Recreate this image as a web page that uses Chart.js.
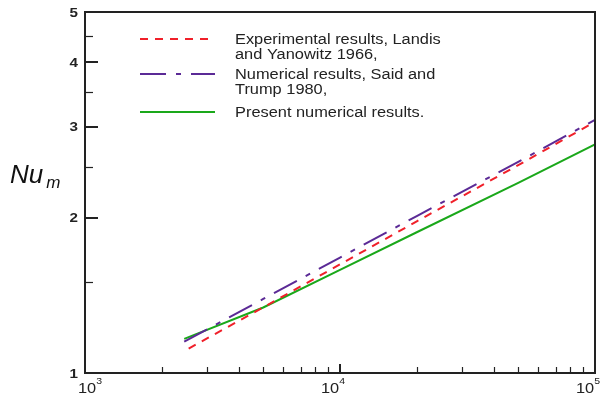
<!DOCTYPE html>
<html>
<head>
<meta charset="utf-8">
<script src="https://cdn.jsdelivr.net/npm/chart.js@4"></script>
<style>
  html, body { margin: 0; padding: 0; background: #fff; }
  canvas { display: block; }
</style>
</head>
<body>
<canvas id="c" width="603" height="397"></canvas>
<script>
// Mean Nusselt number against Rayleigh number (log-log)
const raLandis  = [2550, 5000, 10000, 20000, 50000, 100000];
const nuLandis  = [1.115, 1.340, 1.623, 1.966, 2.526, 3.064];
const raSaid    = [2450, 5000, 10000, 20000, 50000, 100000];
const nuSaid    = [1.150, 1.391, 1.673, 2.013, 2.564, 3.090];
const raPresent = [2450, 5000, 10000, 20000, 50000, 100000];
const nuPresent = [1.164, 1.339, 1.584, 1.873, 2.334, 2.770];

const seriesLabels = [
  ['Experimental results, Landis', 'and Yanowitz 1966,'],
  ['Numerical results, Said and', 'Trump 1980,'],
  ['Present numerical results.']
];

const yMajorTicks = [1, 2, 3, 4, 5];
const yMinorTicks = [1.5, 2.5, 3.5, 4.5];
const xMajorTicks = [1000, 10000, 100000];
const xTickExponents = ['3', '4', '5'];
const xMinorTicks = [2000, 3000, 4000, 5000, 6000, 7000, 8000, 9000,
                     20000, 30000, 40000, 50000, 60000, 70000, 80000, 90000];
const yAxisTitle = ['Nu', 'm'];

const FONT = "'Liberation Sans', Arial, sans-serif";
const INK = '#222';
const STRETCH = 1.17;   // text is set slightly wide

const toPoints = (xs, ys) => xs.map((x, i) => ({ x: x, y: ys[i] }));

function wideText(ctx, text, x, y, align) {
  ctx.save();
  ctx.translate(x, y);
  ctx.scale(STRETCH, 1);
  ctx.textAlign = align || 'left';
  ctx.fillText(text, 0, 0);
  ctx.restore();
}

// Inward tick marks, frame, tick labels, axis title and legend
const decorations = {
  id: 'decorations',
  afterDatasetsDraw(chart) {
    const { ctx, chartArea: a, scales } = chart;
    const xs = scales.x, ys = scales.y;
    ctx.save();
    ctx.strokeStyle = INK;
    ctx.lineCap = 'butt';

    // y ticks
    yMajorTicks.forEach(v => {
      const y = Math.round(ys.getPixelForValue(v));
      ctx.lineWidth = 2;
      ctx.beginPath(); ctx.moveTo(a.left, y); ctx.lineTo(a.left + 13, y); ctx.stroke();
    });
    yMinorTicks.forEach(v => {
      const y = Math.round(ys.getPixelForValue(v)) + 0.5;
      ctx.lineWidth = 1.2;
      ctx.beginPath(); ctx.moveTo(a.left, y); ctx.lineTo(a.left + 8, y); ctx.stroke();
    });
    // x ticks
    xMajorTicks.forEach(v => {
      const x = Math.round(xs.getPixelForValue(v));
      ctx.lineWidth = 2;
      ctx.beginPath(); ctx.moveTo(x, a.bottom); ctx.lineTo(x, a.bottom - 9); ctx.stroke();
    });
    xMinorTicks.forEach(v => {
      const x = Math.round(xs.getPixelForValue(v)) + 0.5;
      ctx.lineWidth = 1.2;
      ctx.beginPath(); ctx.moveTo(x, a.bottom); ctx.lineTo(x, a.bottom - 6); ctx.stroke();
    });

    // frame
    ctx.lineWidth = 2;
    ctx.strokeRect(a.left, a.top, a.right - a.left, a.bottom - a.top);

    ctx.fillStyle = INK;

    // y tick labels
    ctx.font = 'bold 13px ' + FONT;
    ctx.textBaseline = 'middle';
    yMajorTicks.forEach(v => {
      const y = ys.getPixelForValue(v);
      wideText(ctx, String(v), 78, y + 1, 'right');
    });

    // x tick labels: 10 with superscript exponent
    ctx.textBaseline = 'alphabetic';
    xMajorTicks.forEach((v, i) => {
      const x = xs.getPixelForValue(v);
      ctx.font = '14px ' + FONT;
      const wBase = ctx.measureText('10').width * STRETCH;
      ctx.font = '9px ' + FONT;
      const wExp = ctx.measureText(xTickExponents[i]).width * STRETCH;
      let left = x + 5 - (wBase + wExp);
      if (left < 78) left = 78;
      ctx.font = '14px ' + FONT;
      wideText(ctx, '10', left, 393);
      ctx.font = '9px ' + FONT;
      wideText(ctx, xTickExponents[i], left + wBase, 384);
    });

    // y axis title Nu with subscript m
    ctx.fillStyle = '#111';
    ctx.font = 'italic 26px ' + FONT;
    ctx.fillText(yAxisTitle[0], 10, 183);
    const wNu = ctx.measureText(yAxisTitle[0]).width;
    ctx.font = 'italic 17px ' + FONT;
    ctx.fillText(yAxisTitle[1], 10 + wNu + 3, 188);

    // legend
    const rows = [40, 75, 113];
    chart.data.datasets.forEach((ds, i) => {
      const y = rows[i];
      ctx.strokeStyle = ds.borderColor;
      ctx.lineWidth = 2;
      ctx.setLineDash(ds.borderDash || []);
      ctx.beginPath(); ctx.moveTo(140, y - 1); ctx.lineTo(215, y - 1); ctx.stroke();
      ctx.setLineDash([]);
      ctx.fillStyle = INK;
      ctx.font = '14px ' + FONT;
      ctx.textBaseline = 'middle';
      seriesLabels[i].forEach((t, k) => wideText(ctx, t, 235, y + k * 15));
    });
    ctx.restore();
  }
};

new Chart(document.getElementById('c'), {
  type: 'line',
  data: {
    datasets: [
      {
        label: seriesLabels[0].join(' '),
        data: toPoints(raLandis, nuLandis),
        borderColor: '#f0202a',
        borderWidth: 2,
        borderDash: [8, 7],
        pointRadius: 0,
        tension: 0
      },
      {
        label: seriesLabels[1].join(' '),
        data: toPoints(raSaid, nuSaid),
        borderColor: '#5b2a96',
        borderWidth: 2,
        borderDash: [26, 10, 5, 10],
        pointRadius: 0,
        tension: 0
      },
      {
        label: seriesLabels[2].join(' '),
        data: toPoints(raPresent, nuPresent),
        borderColor: '#1aa81a',
        borderWidth: 2,
        pointRadius: 0,
        tension: 0
      }
    ]
  },
  options: {
    responsive: false,
    devicePixelRatio: 1,
    animation: false,
    layout: { padding: { top: 12, right: 8, left: 0, bottom: 0 } },
    plugins: { legend: { display: false }, tooltip: { enabled: false } },
    scales: {
      x: {
        type: 'logarithmic',
        min: 1000,
        max: 100000,
        grid: { display: false },
        border: { display: false },
        ticks: { display: false },
        afterFit(scale) { scale.height = 24; }
      },
      y: {
        type: 'logarithmic',
        min: 1,
        max: 5,
        grid: { display: false, drawTicks: false },
        border: { display: false },
        afterBuildTicks(scale) { scale.ticks = yMajorTicks.map(v => ({ value: v })); },
        ticks: { display: false },
        afterFit(scale) { scale.width = 85; }
      }
    }
  },
  plugins: [decorations]
});
</script>
</body>
</html>
